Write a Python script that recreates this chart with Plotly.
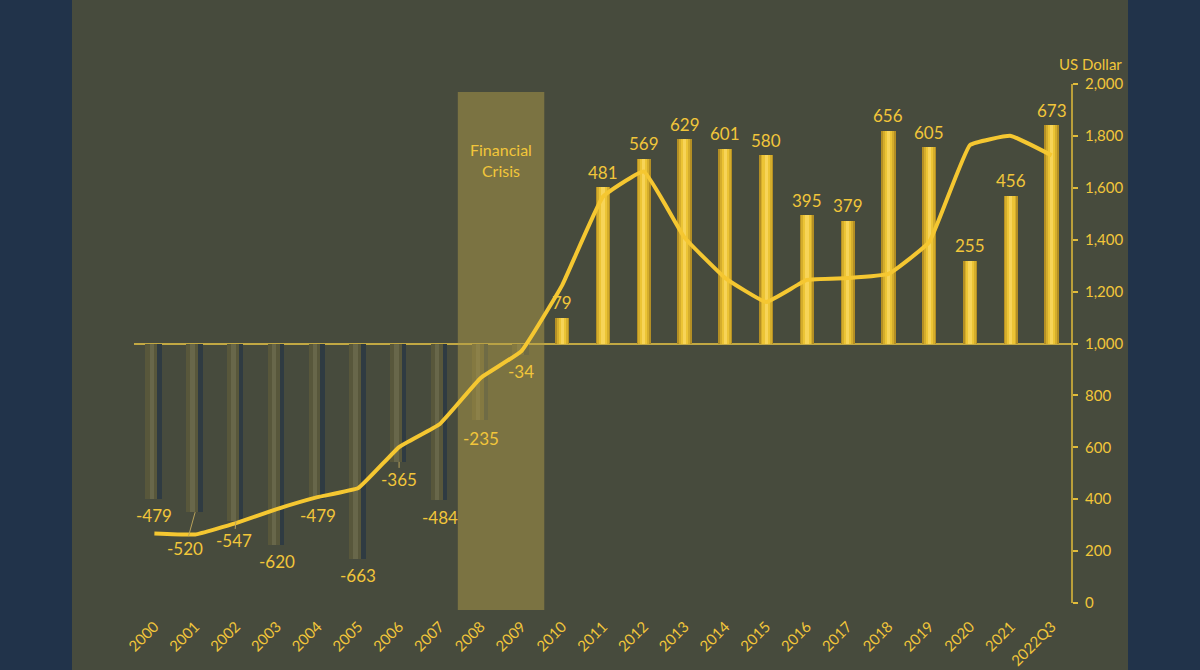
import plotly.graph_objects as go

# ---------------- data ----------------
years = ["2000", "2001", "2002", "2003", "2004", "2005", "2006", "2007", "2008",
         "2009", "2010", "2011", "2012", "2013", "2014", "2015", "2016", "2017",
         "2018", "2019", "2020", "2021", "2022Q3"]
bar_values = [-479, -520, -547, -620, -479, -663, -365, -484, -235, -34, 79, 481,
              569, 629, 601, 580, 395, 379, 656, 605, 255, 456, 673]
line_values = [268, 264, 308, 362, 408, 443, 601, 690, 867, 971, 1225, 1566, 1663,
               1408, 1252, 1160, 1245, 1252, 1268, 1391, 1765, 1800, 1725]
crisis_years = ["2008", "2009"]
crisis_label = "Financial<br>Crisis"
axis_title = "US Dollar"
right_ticks = [0, 200, 400, 600, 800, 1000, 1200, 1400, 1600, 1800, 2000]

# ---------------- styling ----------------
NAVY = "#21334a"
OLIVE = "#474b3d"
YELLOW = "#f2c63a"
FONT = "Lato"

# label nudges (pixel offsets of label centre from bar end) and leader lines
label_nudge = {"2001": (-10, 36), "2002": (-2, 20), "2006": (0, 18), "2008": (0, 19)}
leader_years = {"2001", "2002", "2006"}

n = len(years)
xs = list(range(n))

# axis ranges: right axis extends slightly below 0 so the crisis band reaches past it
r_min, r_max = -27, 2000
b_max = 800
f = (1000 - r_min) / (r_max - r_min)
b_min = -f * b_max / (1 - f)

pos_vals = [v if v > 0 else None for v in bar_values]
neg_vals = [v if v < 0 else None for v in bar_values]

fig = go.Figure()

# negative bars: dark shadow + olive body + lighter centre
for w, off, col in [(0.40, -0.22, "#2f3b42"), (0.29, -0.22, "#58573b"), (0.11, -0.12, "#68674a")]:
    fig.add_trace(go.Bar(x=xs, y=neg_vals, width=w, offset=off, marker_color=col,
                         marker_line_width=0, yaxis="y", showlegend=False, hoverinfo="skip"))

# positive bars: cylinder look
for w, col in [(0.35, "#b48f24"), (0.27, "#d4ad2c"), (0.18, "#ecc435"), (0.08, "#f7d458")]:
    fig.add_trace(go.Bar(x=xs, y=pos_vals, width=w, offset=-w / 2, marker_color=col,
                         marker_line_width=0, yaxis="y", showlegend=False, hoverinfo="skip"))

# financial crisis band (between bars and line)
i0, i1 = years.index(crisis_years[0]), years.index(crisis_years[-1])
pad = 0.06
bx0, bx1 = i0 - 0.5 - pad, i1 + 0.5 + pad
band_top = 1969
fig.add_trace(go.Scatter(x=[bx0, bx1, bx1, bx0, bx0], y=[r_min, r_min, band_top, band_top, r_min],
                         mode="lines", fill="toself", fillcolor="rgba(175,155,71,0.5)",
                         line=dict(width=0), yaxis="y2", showlegend=False, hoverinfo="skip"))

# line series
fig.add_trace(go.Scatter(x=xs, y=line_values, mode="lines", yaxis="y2",
                         line=dict(color="#f5c731", width=4, shape="spline", smoothing=0.3),
                         showlegend=False, hoverinfo="skip"))

annotations = []
for i, (yr, v) in enumerate(zip(years, bar_values)):
    if v > 0:
        ax, ay = 0, -15
    else:
        ax, ay = label_nudge.get(yr, (0, 17))
    annotations.append(dict(
        x=i, y=v, xref="x", yref="y", text=f"{v}", showarrow=True,
        ax=ax, ay=ay, arrowhead=0, arrowwidth=1, standoff=0,
        arrowcolor="#b9a25a" if yr in leader_years else "rgba(0,0,0,0)",
        font=dict(family=FONT, size=17, color=YELLOW)))

annotations.append(dict(x=(i0 + i1) / 2, y=1707, xref="x", yref="y2", text=crisis_label,
                        showarrow=False, font=dict(family=FONT, size=16, color=YELLOW)))
annotations.append(dict(x=1.02, y=2000, xref="paper", yref="y2", text=axis_title,
                        showarrow=False, yshift=20, xanchor="center",
                        font=dict(family=FONT, size=15, color=YELLOW)))

fig.update_layout(
    width=1200, height=670,
    margin=dict(l=134, r=128, t=84, b=60, autoexpand=False),
    paper_bgcolor=NAVY, plot_bgcolor="rgba(0,0,0,0)",
    barmode="overlay", bargap=0,
    font=dict(family=FONT, color=YELLOW),
    xaxis=dict(range=[-0.5, n - 0.5], tickvals=xs, ticktext=years, tickangle=-45,
               showgrid=False, zeroline=False, showline=False, ticks="", automargin=False,
               tickfont=dict(family=FONT, size=15, color=YELLOW), ticklabelstandoff=4),
    yaxis=dict(range=[b_min, b_max], showgrid=False, showticklabels=False, ticks="",
               showline=False, zeroline=True, zerolinecolor="#c2a843", zerolinewidth=2,
               automargin=False),
    yaxis2=dict(range=[r_min, r_max], overlaying="y", side="right", tickvals=right_ticks,
                tickformat=",", showgrid=False, zeroline=False, showline=False,
                ticks="outside", ticklen=5, tickwidth=1.5, tickcolor="#e0bb3a",
                ticklabelstandoff=4, automargin=False,
                tickfont=dict(family=FONT, size=15, color=YELLOW)),
    shapes=[
        dict(type="rect", xref="paper", yref="paper", x0=(72 - 134) / 938, x1=(1128 - 134) / 938,
             y0=-1, y1=2, fillcolor=OLIVE, line_width=0, layer="below"),
        dict(type="line", xref="paper", yref="y2", x0=1, x1=1, y0=0, y1=2000,
             line=dict(color="#e0bb3a", width=1.5)),
    ],
    annotations=annotations,
)

fig.write_html("out.html")
